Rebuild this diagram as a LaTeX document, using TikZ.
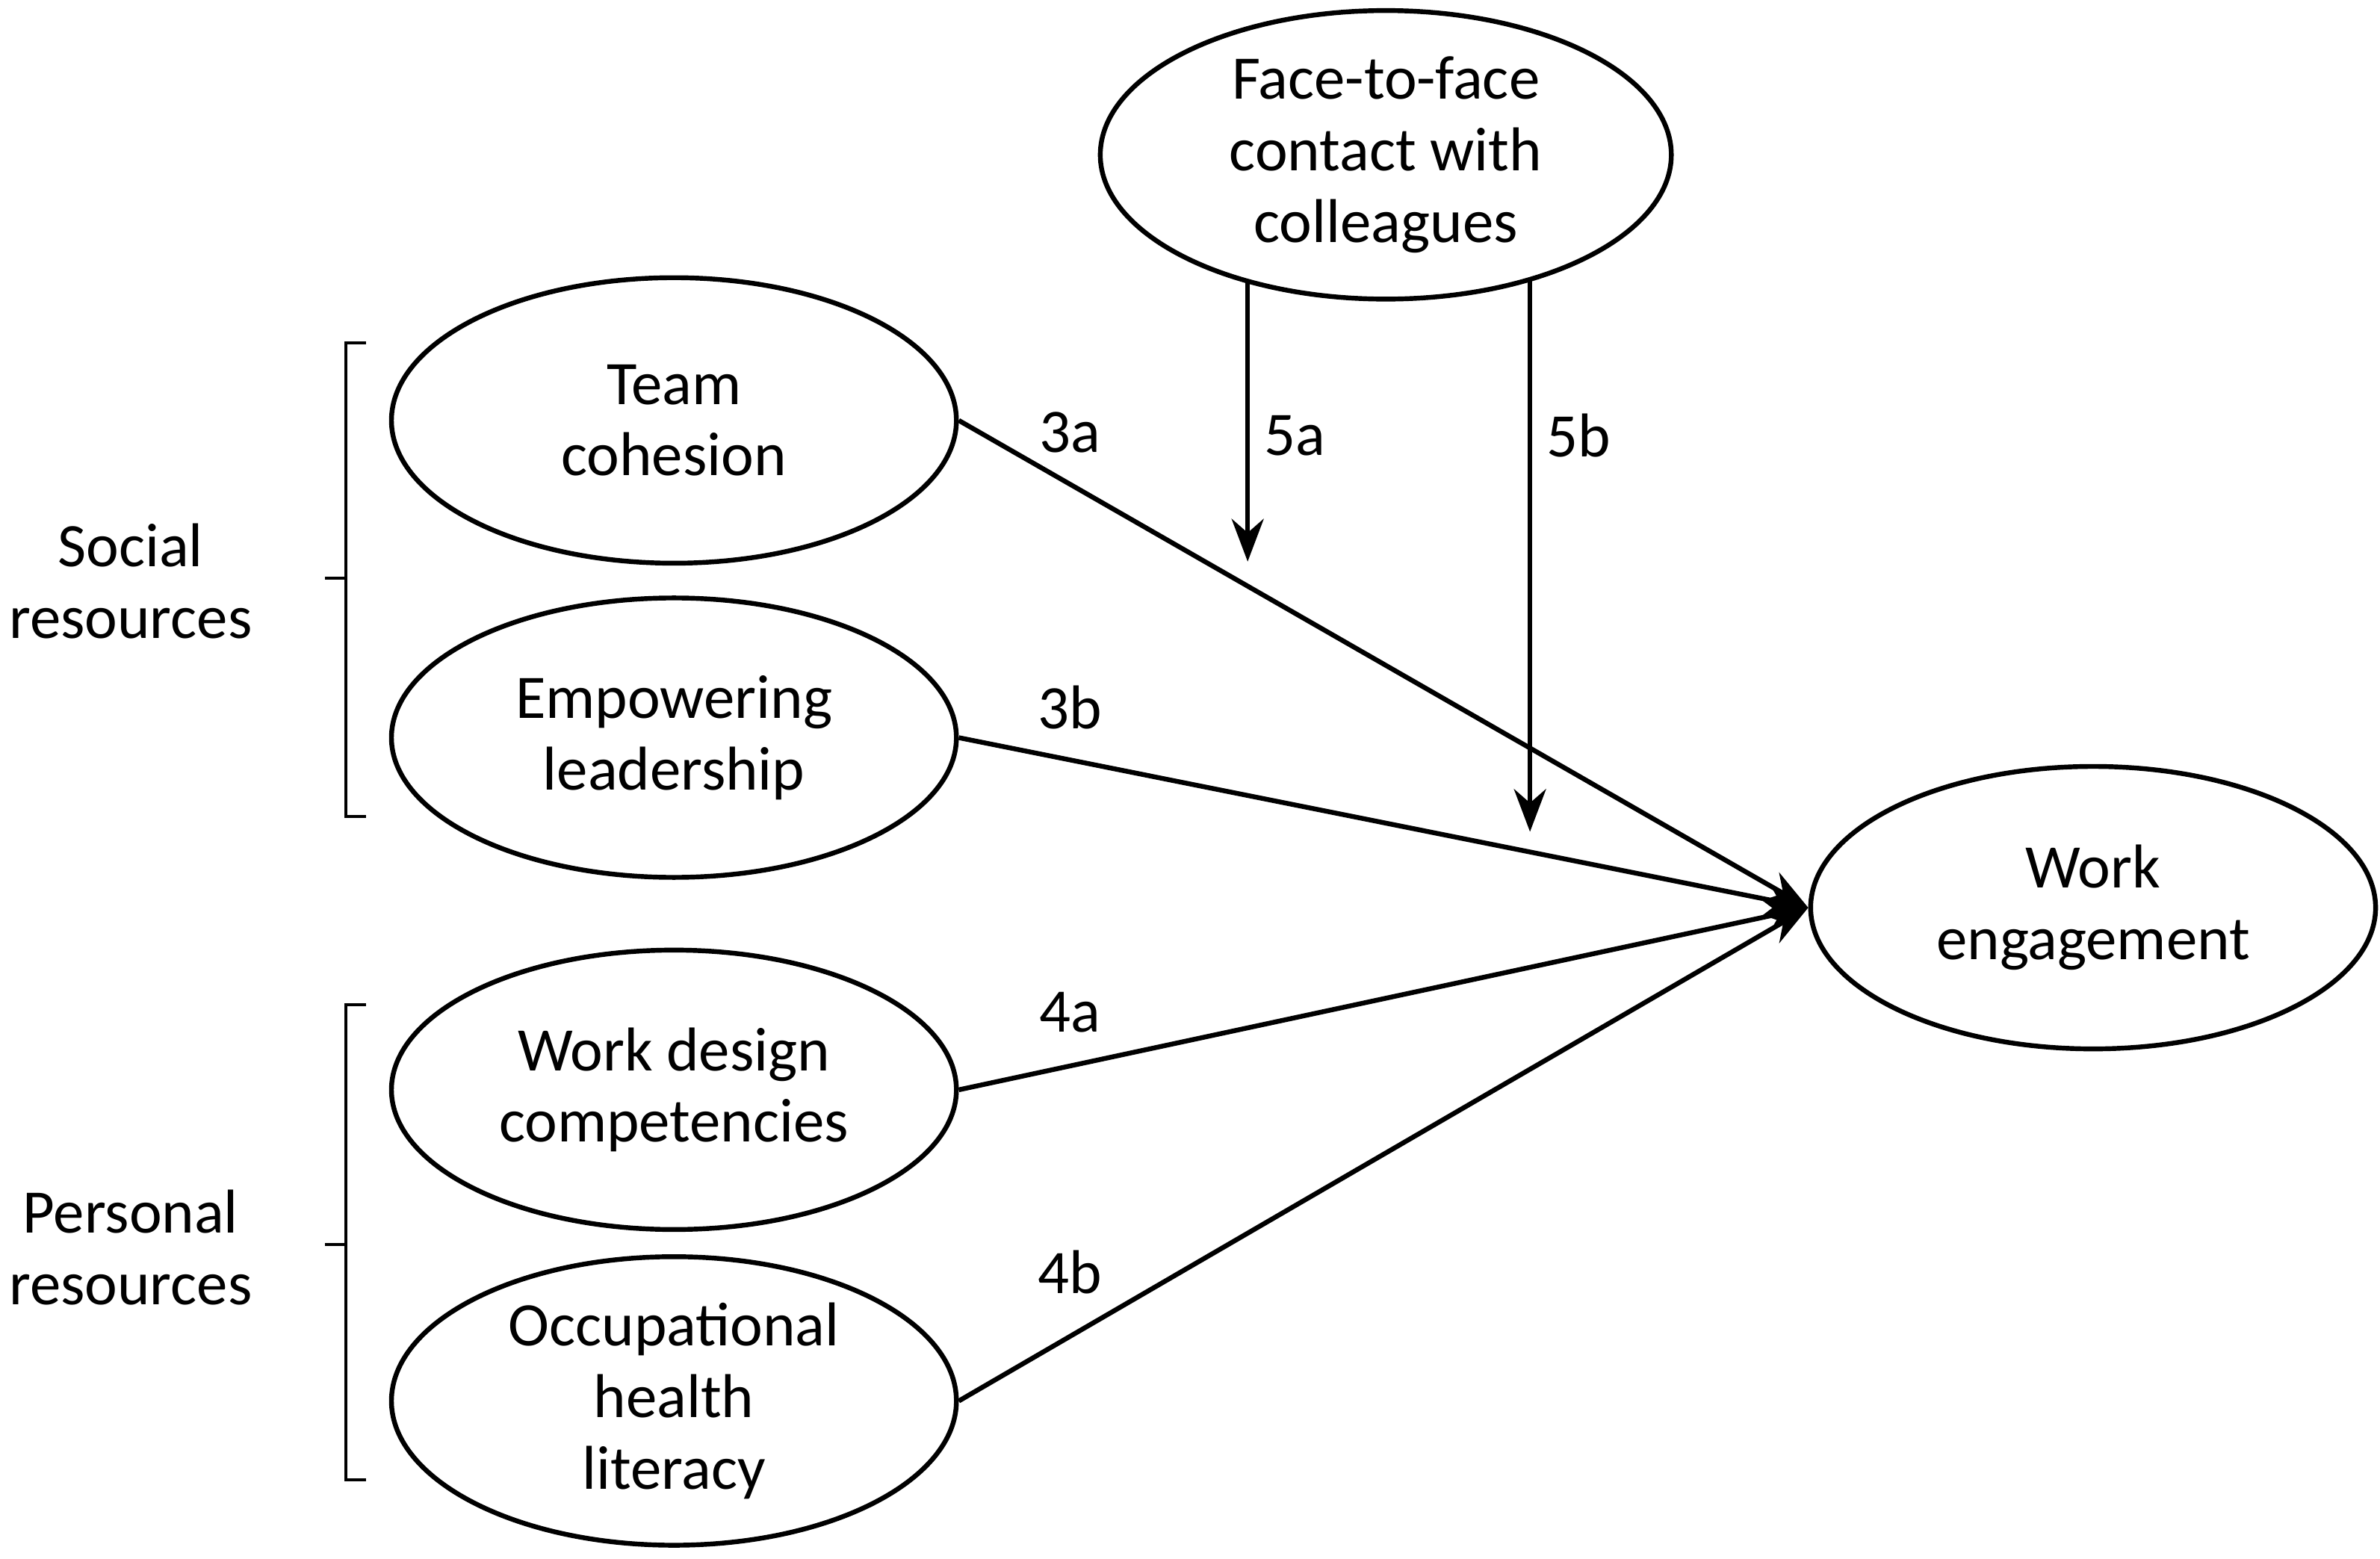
\documentclass[tikz,border=0pt]{standalone}
\usepackage{fontspec}
\setmainfont{Carlito}
\usetikzlibrary{shapes.geometric,arrows.meta}
\begin{document}
\begin{tikzpicture}[x=0.01cm,y=-0.01cm,
  el/.style={draw,line width=0.9pt,ellipse,inner sep=0pt,minimum width=#1,align=center,font=\fontsize{11.6}{13.4}\selectfont},
  el/.default=3.72cm,
  lab/.style={font=\fontsize{11.6}{13.4}\selectfont,align=center},
  arr/.style={line width=0.9pt,-{Stealth[length=8pt,width=6pt]}},
  br/.style={line width=0.6pt}]
\useasboundingbox (0,0) rectangle (1568,1027);
\node[el,minimum height=1.9cm,minimum width=3.76cm] (f) at (913,102) {Face-to-face\\contact with\\colleagues};
\node[el,minimum height=1.88cm] (t) at (444,277) {Team\\cohesion};
\node[el,minimum height=1.84cm] (e) at (444,486) {Empowering\\leadership};
\node[el,minimum height=1.84cm] (w) at (444,718) {Work design\\competencies};
\node[el,minimum height=1.9cm] (o) at (444,923) {Occupational\\health\\literacy};
\node[el,minimum height=1.86cm] (g) at (1379,598) {Work\\engagement};
\coordinate (gl) at (g.west);
\draw[arr] (t.east) -- (gl);
\draw[arr] (e.east) -- (gl);
\draw[arr] (w.east) -- (gl);
\draw[arr] (o.east) -- (gl);
\coordinate (a1) at (822,185); \coordinate (a2) at (822,370);
\coordinate (b1) at (1008,185); \coordinate (b2) at (1008,548);
\draw[arr] (a1) -- (a2);
\draw[arr] (b1) -- (b2);
\node[lab] (l3a) at (705,285) {3a};
\node[lab] (l3b) at (705,466) {3b};
\node[lab] (l4a) at (705,667) {4a};
\node[lab] (l4b) at (705,838) {4b};
\node[lab] (l5a) at (853,287) {5a};
\node[lab] (l5b) at (1040,287) {5b};
\draw[br] (241,226) -- (228,226) -- (228,538) -- (241,538);
\draw[br] (214,381) -- (228,381);
\draw[br] (241,662) -- (228,662) -- (228,975) -- (241,975);
\draw[br] (214,820) -- (228,820);
\node[lab] (s) at (86,383) {Social\\resources};
\node[lab] (p) at (86,822) {Personal\\resources};
\end{tikzpicture}
\end{document}
